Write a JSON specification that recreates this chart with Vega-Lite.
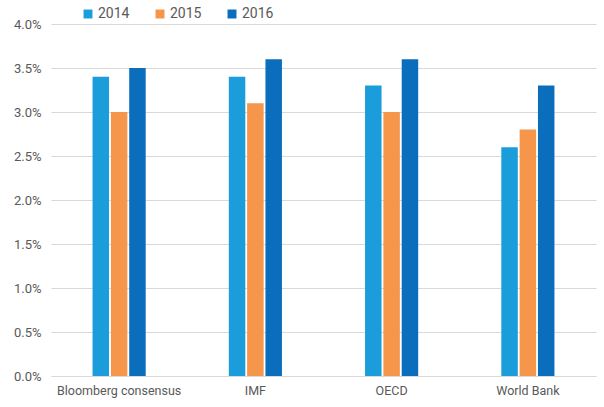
{
  "$schema": "https://vega.github.io/schema/vega-lite/v6.json",
  "width": 545,
  "height": 352,
  "autosize": {"type": "none"},
  "padding": {"left": 51, "top": 24, "right": 8, "bottom": 31},
  "background": "white",
  "config": {
    "font": "Roboto",
    "view": {"stroke": null},
    "axis": {"labelFont": "Roboto", "labelColor": "#595959", "labelFontSize": 13, "titleFont": "Roboto"},
    "legend": {"labelFont": "Roboto", "labelColor": "#595959", "labelFontSize": 14}
  },
  "data": {
    "values": [
      {"source": "Bloomberg consensus", "year": "2014", "value": 0.034},
      {"source": "Bloomberg consensus", "year": "2015", "value": 0.030},
      {"source": "Bloomberg consensus", "year": "2016", "value": 0.035},
      {"source": "IMF", "year": "2014", "value": 0.034},
      {"source": "IMF", "year": "2015", "value": 0.031},
      {"source": "IMF", "year": "2016", "value": 0.036},
      {"source": "OECD", "year": "2014", "value": 0.033},
      {"source": "OECD", "year": "2015", "value": 0.030},
      {"source": "OECD", "year": "2016", "value": 0.036},
      {"source": "World Bank", "year": "2014", "value": 0.026},
      {"source": "World Bank", "year": "2015", "value": 0.028},
      {"source": "World Bank", "year": "2016", "value": 0.033}
    ]
  },
  "mark": {"type": "bar"},
  "encoding": {
    "x": {
      "field": "source", "type": "nominal", "sort": null,
      "scale": {"paddingInner": 0.61, "paddingOuter": 0.305},
      "axis": {"title": null, "labelAngle": 0, "ticks": false, "domainColor": "#d9d9d9", "labelPadding": 8, "labelFontSize": 12.5}
    },
    "xOffset": {"field": "year", "type": "nominal", "scale": {"paddingInner": 0.1}},
    "y": {
      "field": "value", "type": "quantitative",
      "scale": {"domain": [0, 0.04], "nice": false},
      "axis": {"title": null, "format": ".1%", "values": [0, 0.005, 0.01, 0.015, 0.02, 0.025, 0.03, 0.035, 0.04], "labelOverlap": false, "domain": false, "ticks": false, "gridColor": "#d9d9d9", "labelPadding": 10}
    },
    "color": {
      "field": "year", "type": "nominal",
      "scale": {"domain": ["2014", "2015", "2016"], "range": ["#1B9DDB", "#F5964A", "#0A6EBD"]},
      "legend": {"title": null, "orient": "none", "legendX": 30, "legendY": -17, "direction": "horizontal", "symbolType": "square", "symbolSize": 80, "columnPadding": 23, "labelOffset": 3}
    }
  }
}
